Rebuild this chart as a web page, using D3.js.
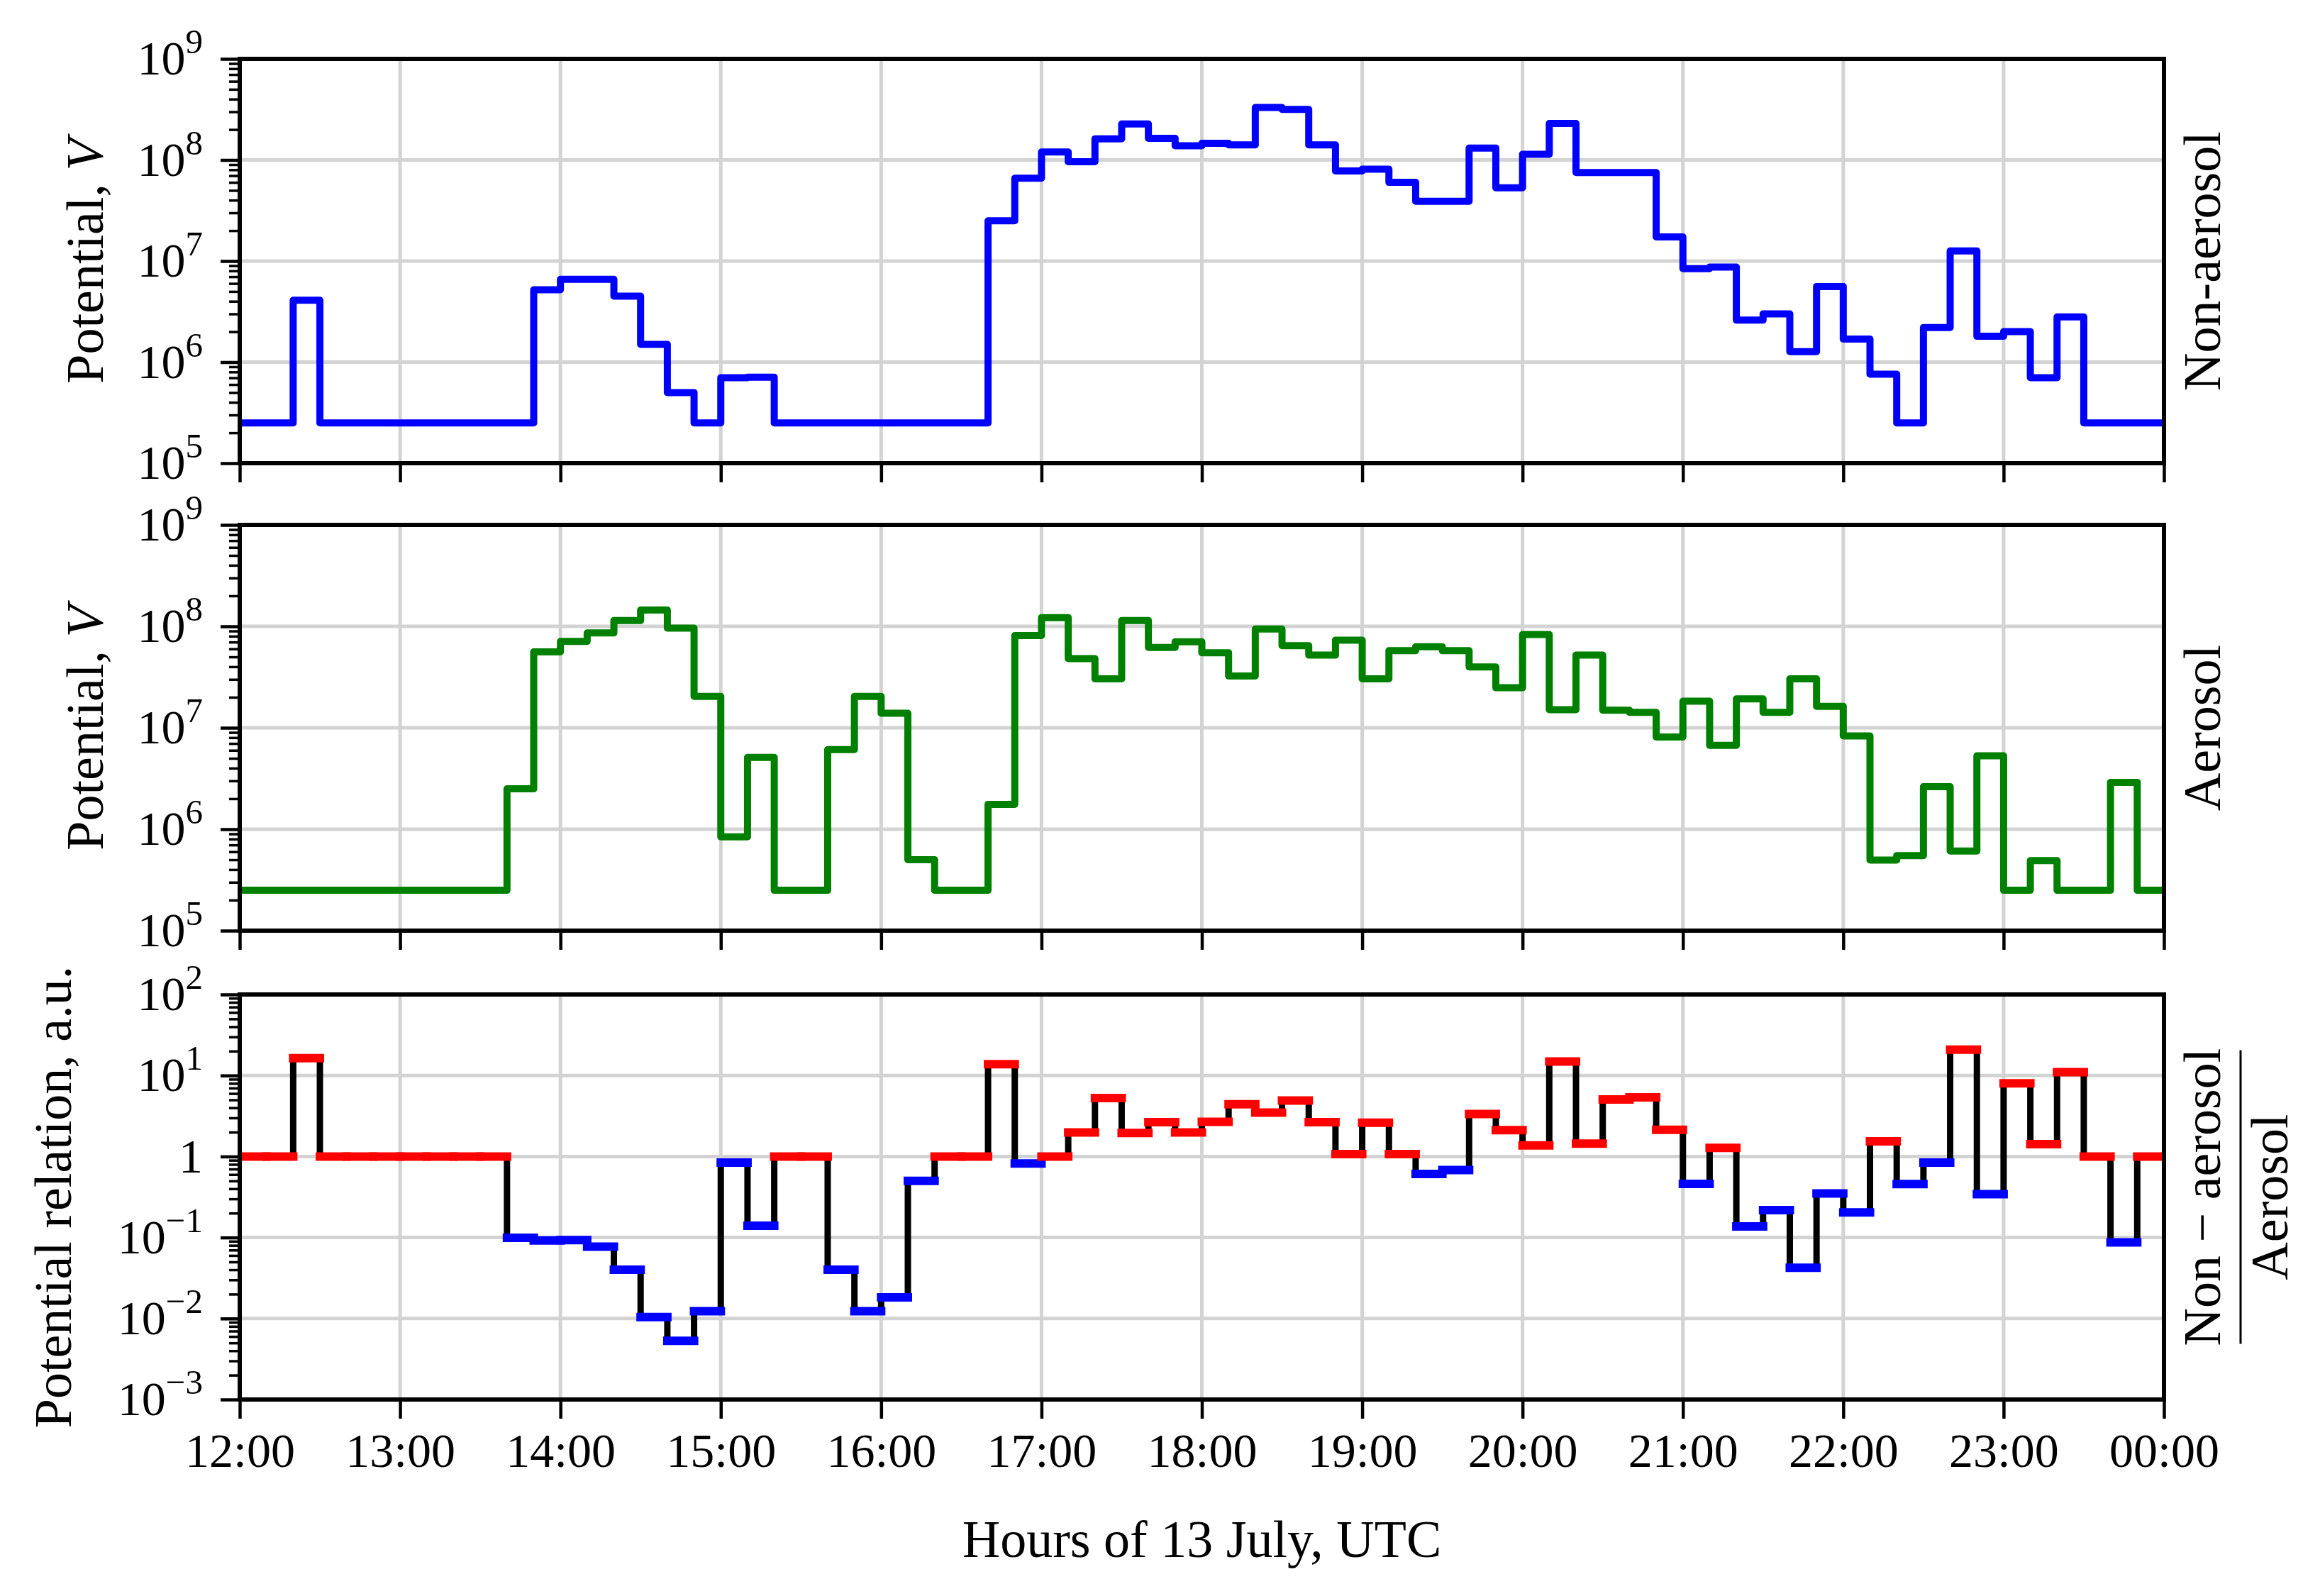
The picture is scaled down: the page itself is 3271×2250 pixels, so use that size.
<!DOCTYPE html>
<html>
<head>
<meta charset="utf-8">
<script src="https://cdn.jsdelivr.net/npm/d3@7"></script>
<style>
  body { margin: 0; background: #fff; }
  svg { display: block; font-family: "Liberation Serif", "DejaVu Serif", serif; }
</style>
</head>
<body>
<svg id="chart"></svg>
<script>
// time range and bin width (10 minute bins)
const dayStart = new Date("2023-07-13T12:00:00Z");
const dayEnd = new Date("2023-07-14T00:00:00Z");
const binMinutes = 10;

// potential, V - non-aerosol
const nonAerosol = [
  2.5e5, 2.5e5, 4.1e6, 2.5e5, 2.5e5, 2.5e5, 2.5e5, 2.5e5, 2.5e5, 2.5e5, 2.5e5, 5.2e6,
  6.6e6, 6.6e6, 4.5e6, 1.5e6, 5.0e5, 2.5e5, 7.0e5, 7.1e5, 2.5e5, 2.5e5, 2.5e5, 2.5e5,
  2.5e5, 2.5e5, 2.5e5, 2.5e5, 2.5e7, 6.6e7, 1.2e8, 9.6e7, 1.62e8, 2.27e8, 1.64e8, 1.38e8,
  1.46e8, 1.41e8, 3.3e8, 3.16e8, 1.41e8, 7.8e7, 8.1e7, 6.0e7, 3.9e7, 3.9e7, 1.31e8, 5.3e7,
  1.14e8, 2.3e8, 7.5e7, 7.5e7, 7.5e7, 1.73e7, 8.4e6, 8.7e6, 2.6e6, 3.0e6, 1.27e6, 5.6e6,
  1.69e6, 7.6e5, 2.5e5, 2.2e6, 1.26e7, 1.8e6, 2.0e6, 7.0e5, 2.8e6, 2.5e5, 2.5e5, 2.5e5
];

// potential, V - aerosol
const aerosol = [
  2.5e5, 2.5e5, 2.5e5, 2.5e5, 2.5e5, 2.5e5, 2.5e5, 2.5e5, 2.5e5, 2.5e5, 2.5e6, 5.6e7,
  7.1e7, 8.6e7, 1.14e8, 1.45e8, 9.6e7, 2.04e7, 8.4e5, 5.1e6, 2.5e5, 2.5e5, 6.1e6, 2.04e7,
  1.39e7, 5.0e5, 2.5e5, 2.5e5, 1.76e6, 8.1e7, 1.22e8, 4.8e7, 3.04e7, 1.14e8, 6.2e7, 7.05e7,
  5.5e7, 3.24e7, 9.4e7, 6.45e7, 5.2e7, 7.3e7, 3.04e7, 5.75e7, 6.3e7, 5.75e7, 3.98e7, 2.48e7,
  8.3e7, 1.51e7, 5.2e7, 1.49e7, 1.42e7, 8.1e6, 1.83e7, 6.7e6, 1.93e7, 1.42e7, 3.04e7, 1.63e7,
  8.3e6, 4.97e5, 5.5e5, 2.63e6, 6.1e5, 5.3e6, 2.5e5, 4.9e5, 2.5e5, 2.5e5, 2.9e6, 2.5e5
];

// potential relation, a.u.
const ratio = [
  1, 1, 16.4, 1, 1, 1, 1, 1, 1, 1, 0.099, 0.092,
  0.093, 0.077, 0.040, 0.0104, 0.0053, 0.0123, 0.84, 0.14, 1, 1, 0.040, 0.0123,
  0.0182, 0.50, 1, 1, 13.8, 0.82, 1.0, 1.98, 5.26, 1.95, 2.66, 1.98,
  2.68, 4.41, 3.48, 4.9, 2.66, 1.07, 2.61, 1.07, 0.61, 0.68, 3.34, 2.11,
  1.37, 14.9, 1.44, 5.05, 5.38, 2.14, 0.46, 1.28, 0.137, 0.218, 0.0424, 0.35,
  0.204, 1.54, 0.456, 0.84, 20.9, 0.342, 8.0, 1.42, 11.0, 1, 0.087, 1
];

const potentialTicks = [1e5, 1e6, 1e7, 1e8, 1e9];
const ratioTicks = [1e-3, 1e-2, 1e-1, 1, 1e1, 1e2];

const width = 3271, height = 2250;
const plotLeft = 338, plotRight = 3051;
const tickFont = 68, labelFont = 74;

const svg = d3.select("#chart").attr("width", width).attr("height", height);
svg.append("rect").attr("width", width).attr("height", height).attr("fill", "#fff");

const binTimes = d3.range(nonAerosol.length + 1).map(i => d3.utcMinute.offset(dayStart, binMinutes * i));

const x = d3.scaleUtc().domain([dayStart, dayEnd]).range([plotLeft, plotRight]);
const hours = x.ticks(d3.utcHour.every(1));

const minorsOf = ticks => {
  const out = [];
  ticks.slice(0, -1).forEach(t => { for (let k = 2; k <= 9; k++) out.push(k * t); });
  return out;
};

const stepPoints = values => {
  const pts = values.map((v, i) => [binTimes[i], v]);
  pts.push([binTimes[values.length], values[values.length - 1]]);
  return pts;
};

const drawPanel = (idx, top, bottom, ticks, showXLabels) => {
  const y = d3.scaleLog().domain([ticks[0], ticks[ticks.length - 1]]).range([bottom, top]);
  const g = svg.append("g");

  // grid
  g.append("g").selectAll("line").data(hours).join("line")
    .attr("x1", d => x(d)).attr("x2", d => x(d))
    .attr("y1", top).attr("y2", bottom)
    .attr("stroke", "#d3d3d3").attr("stroke-width", 5);
  g.append("g").selectAll("line").data(ticks).join("line")
    .attr("x1", plotLeft).attr("x2", plotRight)
    .attr("y1", d => y(d)).attr("y2", d => y(d))
    .attr("stroke", "#d3d3d3").attr("stroke-width", 5);

  svg.append("clipPath").attr("id", "clip" + idx)
    .append("rect").attr("x", plotLeft).attr("y", top)
    .attr("width", plotRight - plotLeft).attr("height", bottom - top);

  const plot = g.append("g").attr("clip-path", `url(#clip${idx})`);

  // x axis
  const xAxis = d3.axisBottom(x).ticks(d3.utcHour.every(1))
    .tickSize(27).tickPadding(20)
    .tickFormat(showXLabels ? d3.utcFormat("%H:%M") : "");
  const xa = g.append("g").attr("transform", `translate(0,${bottom})`).call(xAxis);
  xa.select(".domain").remove();
  xa.attr("font-family", null).attr("font-size", tickFont);
  xa.selectAll(".tick line").attr("stroke-width", 4.5);
  xa.selectAll(".tick text").attr("fill", "#000");

  // y axis minor
  const ym = g.append("g").attr("transform", `translate(${plotLeft},0)`)
    .call(d3.axisLeft(y).tickValues(minorsOf(ticks)).tickSize(15).tickFormat(""));
  ym.select(".domain").remove();
  ym.selectAll(".tick line").attr("stroke-width", 3.5);

  // y axis major
  const ya = g.append("g").attr("transform", `translate(${plotLeft},0)`)
    .call(d3.axisLeft(y).tickValues(ticks).tickSize(27).tickPadding(25));
  ya.select(".domain").remove();
  ya.attr("font-family", null).attr("font-size", tickFont);
  ya.selectAll(".tick line").attr("stroke-width", 4.5);
  ya.selectAll(".tick text").attr("fill", "#000").each(function (d) {
    const e = Math.round(Math.log10(d));
    const t = d3.select(this).text(null);
    if (e === 0) { t.text("1"); return; }
    t.append("tspan").text("10");
    t.append("tspan").attr("dy", -30).attr("font-size", 49).text(e < 0 ? "\u2212" + (-e) : e);
  });

  return { g, plot, y, top, bottom };
};

// panel 1
const p1 = drawPanel(1, 83, 653, potentialTicks, false);
p1.plot.append("path")
  .attr("d", d3.line().x(d => x(d[0])).y(d => p1.y(d[1])).curve(d3.curveStepAfter)(stepPoints(nonAerosol)))
  .attr("fill", "none").attr("stroke", "#0000ff").attr("stroke-width", 10).attr("stroke-linejoin", "round");

// panel 2
const p2 = drawPanel(2, 740, 1312, potentialTicks, false);
p2.plot.append("path")
  .attr("d", d3.line().x(d => x(d[0])).y(d => p2.y(d[1])).curve(d3.curveStepAfter)(stepPoints(aerosol)))
  .attr("fill", "none").attr("stroke", "#008000").attr("stroke-width", 10).attr("stroke-linejoin", "round");

// panel 3
const p3 = drawPanel(3, 1402, 1973, ratioTicks, true);
p3.plot.append("path")
  .attr("d", d3.line().x(d => x(d[0])).y(d => p3.y(d[1])).curve(d3.curveStepAfter)(stepPoints(ratio)))
  .attr("fill", "none").attr("stroke", "#000").attr("stroke-width", 9);
p3.plot.append("g").selectAll("line").data(ratio).join("line")
  .attr("x1", (d, i) => x(binTimes[i])).attr("x2", (d, i) => x(binTimes[i + 1]))
  .attr("y1", d => p3.y(d)).attr("y2", d => p3.y(d))
  .attr("stroke", d => d >= 1 ? "#ff0000" : "#0000ff")
  .attr("stroke-width", 12).attr("stroke-linecap", "square");

// frames
[p1, p2, p3].forEach(p => {
  svg.append("rect").attr("x", plotLeft).attr("y", p.top)
    .attr("width", plotRight - plotLeft).attr("height", p.bottom - p.top)
    .attr("fill", "none").attr("stroke", "#000").attr("stroke-width", 6);
});

// axis labels
const vLabel = (xPos, yPos) => svg.append("text")
  .attr("transform", `translate(${xPos},${yPos}) rotate(-90)`)
  .attr("text-anchor", "middle").attr("font-size", labelFont);

[p1, p2].forEach(p => {
  const t = vLabel(145, (p.top + p.bottom) / 2);
  t.append("tspan").text("Potential, ");
  t.append("tspan").attr("font-style", "italic").text("V");
});
vLabel(100, (p3.top + p3.bottom) / 2).text("Potential relation, a.u.");

vLabel(3130, (p1.top + p1.bottom) / 2).text("Non-aerosol");
vLabel(3130, (p2.top + p2.bottom) / 2).text("Aerosol");

const fracY = (p3.top + p3.bottom) / 2;
vLabel(3130, fracY).text("Non \u2212 aerosol");
svg.append("line").attr("x1", 3159).attr("x2", 3159)
  .attr("y1", fracY - 207).attr("y2", fracY + 207)
  .attr("stroke", "#000").attr("stroke-width", 3);
vLabel(3225, fracY).text("Aerosol");

svg.append("text").attr("x", (plotLeft + plotRight) / 2).attr("y", 2195)
  .attr("text-anchor", "middle").attr("font-size", labelFont)
  .text("Hours of 13 July, UTC");
</script>
</body>
</html>
